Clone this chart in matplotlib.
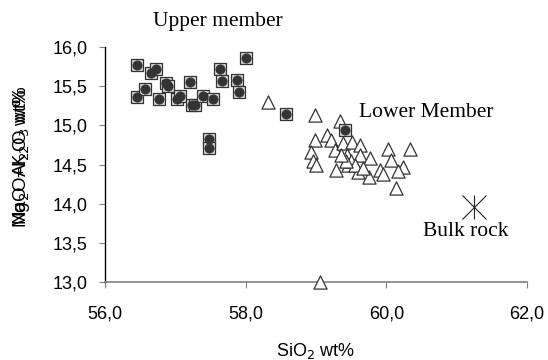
import matplotlib.pyplot as plt
from matplotlib.ticker import FuncFormatter

# Upper member samples (SiO2, Al2O3)
upper_si = [56.46, 56.46, 56.57, 56.65, 56.73, 56.87, 56.89, 56.77, 57.03, 57.06,
            57.21, 57.23, 57.28, 57.40, 57.54, 57.48, 57.48, 57.63, 57.67, 57.87,
            57.90, 58.01, 58.57, 59.41]
upper_al = [15.77, 15.36, 15.46, 15.67, 15.72, 15.54, 15.50, 15.34, 15.34, 15.37,
            15.55, 15.26, 15.26, 15.37, 15.34, 14.83, 14.71, 15.72, 15.57, 15.58,
            15.42, 15.86, 15.15, 14.94]

# Lower member samples
lower_si = [58.32, 58.98, 59.34, 58.98, 59.15, 59.21, 58.93, 58.96, 59.00, 59.27,
            59.29, 59.39, 59.51, 59.63, 59.44, 59.63, 59.77, 59.46, 59.59, 59.75,
            59.91, 59.95, 60.02, 60.33, 60.07, 60.24, 60.17, 60.14, 59.50, 59.55,
            59.42, 59.36, 59.67, 59.06]
lower_al = [15.30, 15.13, 15.06, 14.81, 14.88, 14.81, 14.66, 14.54, 14.49, 14.68,
            14.43, 14.77, 14.79, 14.75, 14.62, 14.62, 14.58, 14.49, 14.41, 14.34,
            14.43, 14.38, 14.70, 14.70, 14.56, 14.47, 14.42, 14.20, 14.54, 14.49,
            14.54, 14.62, 14.45, 13.00]

bulk_si = [61.24]
bulk_al = [13.96]

fig = plt.figure(figsize=(5.48, 3.6), dpi=100)
ax = fig.add_axes([0.1916, 0.2167, 0.7701, 0.6527])

ax.scatter(lower_si, lower_al, marker="^", s=90, facecolor="white",
           edgecolor="#333333", linewidths=0.9, zorder=3, clip_on=False)
ax.scatter(upper_si, upper_al, marker="s", s=85, facecolor="#d8d8d8",
           edgecolor="#333333", linewidths=0.9, zorder=4)
ax.scatter(upper_si, upper_al, marker="o", s=45, facecolor="#333333",
           edgecolor="#333333", linewidths=0.5, zorder=5)
ax.scatter(bulk_si, bulk_al, marker="x", s=300, color="#222222",
           linewidths=0.8, zorder=5)
ax.scatter(bulk_si, bulk_al, marker="|", s=300, color="#222222",
           linewidths=0.8, zorder=5)

serif = "Liberation Serif"
ax.text(56.68, 16.32, "Upper member", family=serif, fontsize=15.5, ha="left", va="center")
ax.text(59.61, 15.16, "Lower Member", family=serif, fontsize=15.5, ha="left", va="center")
ax.text(60.52, 13.64, "Bulk rock", family=serif, fontsize=15.5, ha="left", va="center")

ax.set_xlim(56, 62)
ax.set_ylim(13, 16)
ax.set_xticks([56, 58, 60, 62])
ax.set_yticks([13.0, 13.5, 14.0, 14.5, 15.0, 15.5, 16.0])
fmt = FuncFormatter(lambda v, p: f"{v:.1f}".replace(".", ","))
ax.xaxis.set_major_formatter(fmt)
ax.yaxis.set_major_formatter(fmt)

for lab in ax.get_xticklabels() + ax.get_yticklabels():
    lab.set_family("Liberation Sans")
    lab.set_fontsize(13)

ax.spines["top"].set_visible(False)
ax.spines["right"].set_visible(False)
ax.spines["left"].set_color("black")
ax.spines["left"].set_linewidth(1.0)
ax.spines["bottom"].set_color("#808080")
ax.spines["bottom"].set_linewidth(1.2)
ax.tick_params(axis="y", direction="out", length=4, width=0.8, colors="#808080",
               labelcolor="black", pad=8.5)
ax.tick_params(axis="x", direction="out", length=4, width=0.8, colors="#808080",
               labelcolor="black", pad=13)

ax.set_xlabel("SiO$_2$ wt%", family="Liberation Sans", fontsize=13, labelpad=13)
# two labels overlapping, as in the original
fig.text(0.04, 0.564, "Na$_2$O+K$_2$O wt%", rotation=90, family="Liberation Sans",
         fontsize=13.5, ha="center", va="center")
fig.text(0.04, 0.564, "MgO  Al$_2$O$_3$ wt%", rotation=90, family="Liberation Sans",
         fontsize=13.5, ha="center", va="center")

fig.savefig("out.png", dpi=100)
